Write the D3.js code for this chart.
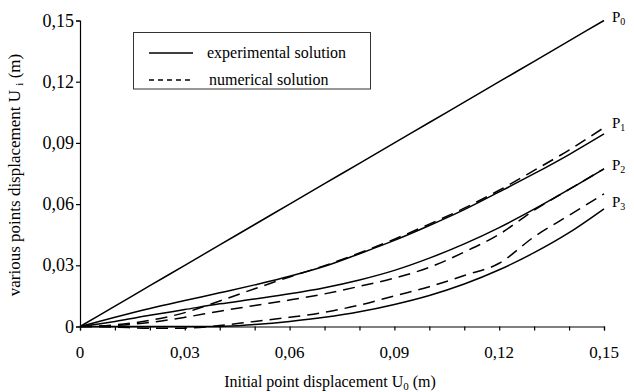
<!DOCTYPE html>
<html><head><meta charset="utf-8">
<script src="https://cdn.jsdelivr.net/npm/d3@7"></script>
<style>body{margin:0;background:#fff}svg{display:block}</style>
</head><body><svg id="c" width="634" height="392"></svg>
<script>
const u0 = [0,0.01,0.02,0.03,0.04,0.05,0.06,0.07,0.08,0.09,0.10,0.11,0.12,0.13,0.14,0.15];
const p0Exp = [0,0.01,0.02,0.03,0.04,0.05,0.06,0.07,0.08,0.09,0.10,0.11,0.12,0.13,0.14,0.15];
const p1Exp = [0,0.0045,0.0088,0.0127,0.0165,0.0204,0.0246,0.0295,0.0357,0.0422,0.0495,0.0573,0.066,0.0749,0.0843,0.0944];
const p1Num = [0,0.0008,0.003,0.0068,0.0125,0.0185,0.0243,0.0298,0.036,0.0428,0.0502,0.058,0.0668,0.0765,0.0865,0.0975];
const p2Exp = [0,0.0025,0.0055,0.0083,0.0111,0.0135,0.016,0.019,0.0228,0.0275,0.0335,0.0405,0.0485,0.0575,0.0672,0.0773];
const p2Num = [0,0.0005,0.002,0.0045,0.0075,0.0103,0.013,0.016,0.0197,0.0237,0.029,0.0365,0.0452,0.057,0.0672,0.0773];
const p3Exp = [0,0,0,0,0,0.001,0.0025,0.0045,0.0072,0.0108,0.0152,0.0208,0.0278,0.0362,0.046,0.0577];
const p3Num = [0,-0.0003,-0.0008,-0.0008,0.0005,0.0025,0.0045,0.007,0.0105,0.015,0.0195,0.025,0.031,0.044,0.0545,0.065];
const xTickLabels = ["0","0,03","0,06","0,09","0,12","0,15"];
const yTickLabels = ["0","0,03","0,06","0,09","0,12","0,15"];
const curveNames = ["0","1","2","3"];
const legendLabels = ["experimental solution","numerical solution"];

const FONT = "Liberation Serif";
const svg = d3.select("#c");
const x = d3.scaleLinear().domain([0,0.15]).range([80,604]);
const y = d3.scaleLinear().domain([0,0.15]).range([326.5,20.5]);

// axes
const xAxis = d3.axisBottom(x).tickValues(d3.range(0,16).map(i=>i/100)).tickSize(4).tickFormat("");
const gx = svg.append("g").attr("transform","translate(0,326.5)").call(xAxis);
const yAxis = d3.axisLeft(y).tickValues(d3.range(0,6).map(i=>i*0.03)).tickSize(4).tickFormat("");
const gy = svg.append("g").attr("transform","translate(80,0)").call(yAxis);
[gx,gy].forEach(g=>{g.select(".domain").attr("stroke","#000").attr("stroke-width",1.2);g.selectAll(".tick line").attr("stroke","#000").attr("stroke-width",1.2);});

svg.append("g").selectAll("text").data(xTickLabels).join("text").attr("font-family",FONT)
  .attr("x",(d,i)=>x(i*0.03)).attr("y",358).attr("text-anchor","middle").attr("font-size",17).text(d=>d);
svg.append("g").selectAll("text").data(yTickLabels).join("text").attr("font-family",FONT)
  .attr("x",74).attr("y",(d,i)=>y(i*0.03)+6).attr("text-anchor","end").attr("font-size",18).text(d=>d);

// axis titles
const xt = svg.append("text").attr("font-family",FONT).attr("x",330).attr("y",387).attr("text-anchor","middle").attr("font-size",16);
xt.append("tspan").text("Initial point displacement U");
xt.append("tspan").attr("font-size",11).attr("dy",3).text("0");
xt.append("tspan").attr("dy",-3).text(" (m)");
const yt = svg.append("text").attr("font-family",FONT).attr("transform","translate(20,175) rotate(-90)").attr("text-anchor","middle").attr("font-size",17);
yt.append("tspan").text("various points displacement U ");
yt.append("tspan").attr("font-size",11).attr("dy",3).text("i");
yt.append("tspan").attr("dy",-3).text(" (m)");

// curves
const line = d3.line().x(d=>x(d[0])).y(d=>y(d[1])).curve(d3.curveMonotoneX);
const series = [
  {v:p0Exp,dash:null},
  {v:p1Exp,dash:null},{v:p1Num,dash:"12,7"},
  {v:p2Exp,dash:null},{v:p2Num,dash:"12,7"},
  {v:p3Exp,dash:null},{v:p3Num,dash:"12,7"}
];
svg.append("g").selectAll("path").data(series).join("path")
  .attr("d",s=>line(u0.map((u,i)=>[u,s.v[i]])))
  .attr("fill","none").attr("stroke","#000").attr("stroke-width",1.5)
  .attr("stroke-dasharray",s=>s.dash);

// curve labels
const labelY = [22,128,170,207];
curveNames.forEach((n,i)=>{
  const t = svg.append("text").attr("font-family",FONT).attr("x",612).attr("y",labelY[i]).attr("font-size",15);
  t.append("tspan").text("P");
  t.append("tspan").attr("font-size",10).attr("dy",3).text(n);
});

// legend
svg.append("rect").attr("x",133.5).attr("y",32.5).attr("width",237).attr("height",56.5)
  .attr("fill","#fff").attr("stroke","#333").attr("stroke-width",1);
const lg = svg.append("g");
legendLabels.forEach((t,i)=>{
  const yy = 53 + i*27;
  lg.append("line").attr("x1",149).attr("x2",193).attr("y1",yy).attr("y2",yy)
    .attr("stroke","#000").attr("stroke-width",1.3).attr("stroke-dasharray",i?"5,4":null);
  lg.append("text").attr("font-family",FONT).attr("x",i?209:207).attr("y",yy+5).attr("font-size",16).text(t);
});
</script></body></html>
